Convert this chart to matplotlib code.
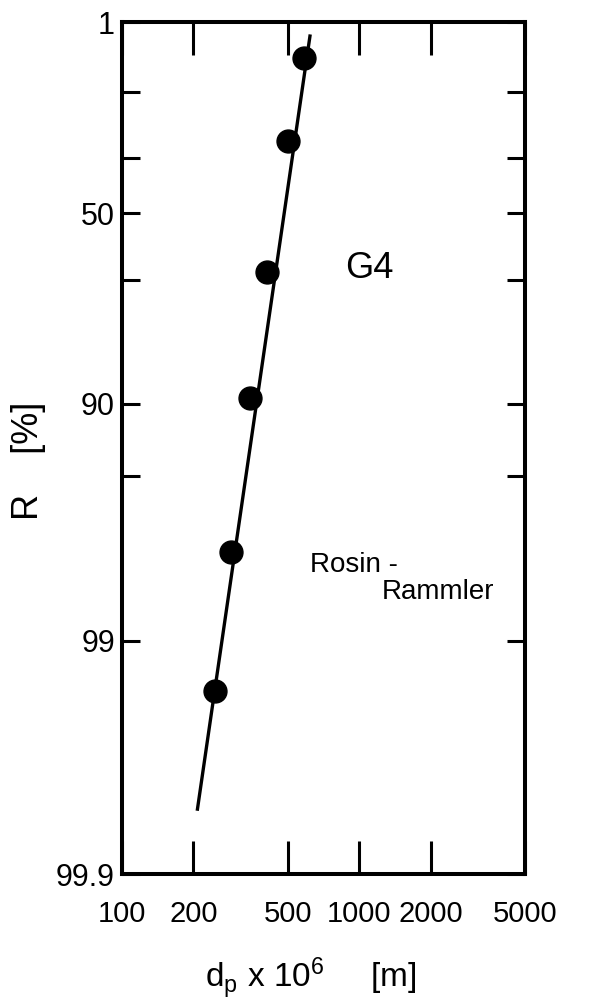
import numpy as np
import matplotlib
matplotlib.use('Agg')
from matplotlib import pyplot as plt
from matplotlib.ticker import NullLocator, FixedLocator, FixedFormatter

plt.rcParams['font.family'] = ['Liberation Sans', 'DejaVu Sans']
plt.rcParams['mathtext.fontset'] = 'custom'
plt.rcParams['mathtext.rm'] = 'Liberation Sans'
plt.rcParams['mathtext.it'] = 'Liberation Sans'

# measured particle sizes (d_p x 10^6 m) and cumulative residue R (%)
size = [585, 500, 407, 345, 287, 246]
residue = [3.97, 24.2, 67.9, 89.5, 97.6, 99.39]

# ends of the fitted Rosin-Rammler line
fit_size = [620, 208]
fit_residue = [1.82, 99.81]

x_ticks = [100, 200, 500, 1000, 2000, 5000]
y_ticks = [1, 10, 30, 50, 70, 90, 95, 99, 99.9]
y_labels = ['1', '', '', '50', '', '90', '', '99', '99.9']


def rr_forward(r):
    r = np.clip(np.asarray(r, dtype=float), 1e-6, 100 - 1e-9)
    return -np.log(-np.log(r / 100.0))


def rr_inverse(y):
    return 100.0 * np.exp(-np.exp(-np.asarray(y, dtype=float)))


fig = plt.figure(figsize=(5.98, 10), dpi=100)
ax = fig.add_axes([0.204, 0.126, 0.674, 0.852])

ax.set_xscale('log')
ax.set_yscale('function', functions=(rr_forward, rr_inverse))

ax.plot(fit_size, fit_residue, color='black', lw=2.4, zorder=2)
ax.plot(size, residue, 'o', color='black', ms=16.5, zorder=3)

ax.set_xlim(100, 5000)
ax.set_ylim(99.9, 1)

ax.xaxis.set_major_locator(FixedLocator(x_ticks))
ax.xaxis.set_major_formatter(FixedFormatter([str(v) for v in x_ticks]))
ax.xaxis.set_minor_locator(NullLocator())
ax.yaxis.set_major_locator(FixedLocator(y_ticks))
ax.yaxis.set_major_formatter(FixedFormatter(y_labels))
ax.yaxis.set_minor_locator(NullLocator())

ax.tick_params(axis='x', direction='in', top=True, length=24, width=2.2,
               pad=19, labelsize=21)
ax.tick_params(axis='y', direction='in', right=True, length=13, width=2.2,
               pad=5, labelsize=22)

for sp in ax.spines.values():
    sp.set_linewidth(2.9)

ax.set_ylabel('R    [%]', fontsize=26, va='center')
ax.yaxis.set_label_coords(-0.233, 0.485)
ax.set_xlabel(r'd$_p$ x 10$^6$     [m]', fontsize=24, va='baseline')
ax.xaxis.set_label_coords(0.469, -0.133)

ax.text(0.553, 0.711, 'G4', transform=ax.transAxes, fontsize=26,
        ha='left', va='center')
ax.text(0.4665, 0.363, 'Rosin -', transform=ax.transAxes, fontsize=20,
        ha='left', va='center')
ax.text(0.645, 0.331, 'Rammler', transform=ax.transAxes, fontsize=20,
        ha='left', va='center')

fig.savefig('out.png', dpi=100)
